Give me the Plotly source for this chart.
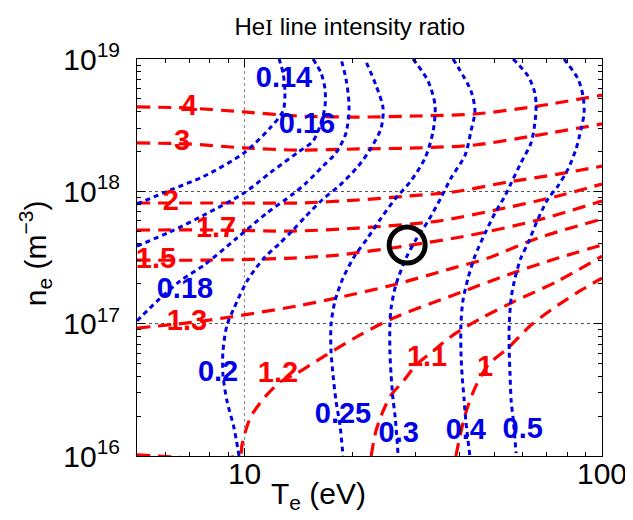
import plotly.graph_objects as go

# ---------------- data ----------------
# Blue dotted contours: temperature-sensitive line ratio
blue_levels = ["0.14", "0.16", "0.18", "0.2", "0.25", "0.3", "0.4", "0.5"]
te_b014 = [5.0, 6.18, 7.7, 9.96, 11.78, 12.81, 12.97, 12.81, 12.49]
ne_b014 = [8.02e17, 1.02e18, 1.30e18, 1.95e18, 3.01e18, 4.05e18, 5.53e18, 7.84e18, 1.0e19]
te_b016 = [5.0, 6.18, 7.7, 9.96, 11.78, 14.02, 15.54, 16.36, 16.79, 16.79, 16.36, 15.54]
ne_b016 = [3.86e17, 4.93e17, 6.62e17, 9.71e17, 1.38e18, 1.95e18, 2.40e18, 3.28e18, 4.41e18, 5.93e18, 7.84e18, 1.0e19]
te_b018 = [5.0, 5.69, 6.6, 7.7, 9.52, 11.55, 13.66, 14.86, 16.57, 18.02, 19.22, 19.6, 19.22, 18.61]
ne_b018 = [1.05e17, 1.48e17, 2.10e17, 2.77e17, 4.44e17, 6.86e17, 9.54e17, 1.155e18, 1.55e18, 1.95e18, 2.76e18, 4.41e18, 7.06e18, 1.0e19]
te_b020 = [9.65, 9.34, 8.93, 8.7, 8.7, 8.93, 9.34, 10.16, 11.33, 12.49, 13.66, 14.86, 16.47, 18.49, 20.8, 22.6, 24.1, 24.4, 23.3, 21.7]
ne_b020 = [1.0e16, 1.63e16, 2.60e16, 4.09e16, 6.21e16, 9.76e16, 1.31e17, 2.10e17, 3.13e17, 4.00e17, 5.10e17, 6.51e17, 8.60e17, 1.116e18, 1.55e18, 2.13e18, 3.01e18, 4.26e18, 6.36e18, 1.0e19]
te_b025 = [29.6, 32.6, 34.1, 33.7, 32.0, 29.2, 26.5, 24.1, 22.1, 20.4, 18.85, 17.9, 17.45, 17.45, 17.68, 18.02, 18.49, 18.85]
ne_b025 = [1.0e19, 6.82e18, 4.49e18, 2.86e18, 1.79e18, 1.20e18, 8.90e17, 6.28e17, 4.44e17, 3.30e17, 2.21e17, 1.48e17, 9.76e16, 6.21e16, 4.09e16, 2.60e16, 1.71e16, 1.0e16]
te_b030 = [38.3, 43.0, 44.1, 43.0, 41.4, 37.8, 35.4, 32.6, 30.0, 28.3, 26.5, 25.7, 25.5, 25.5, 25.7, 26.0, 26.4, 26.9]
ne_b030 = [1.0e19, 5.73e18, 4.05e18, 2.86e18, 1.88e18, 1.26e18, 8.90e17, 5.96e17, 4.21e17, 3.13e17, 1.96e17, 1.31e17, 9.76e16, 6.21e16, 4.09e16, 2.74e16, 1.93e16, 1.0e16]
te_b040 = [56.4, 62.1, 64.9, 65.4, 64.9, 63.3, 59.3, 55.7, 53.5, 50.2, 47.1, 44.1, 42.2, 40.8, 40.3, 40.3, 40.6, 41.1, 41.6, 42.7]
ne_b040 = [1.0e19, 7.44e18, 5.53e18, 4.41e18, 3.28e18, 2.32e18, 1.64e18, 1.155e18, 9.22e17, 6.86e17, 4.84e17, 3.24e17, 2.21e17, 1.48e17, 9.76e16, 6.21e16, 4.09e16, 2.74e16, 1.83e16, 1.0e16]
te_b050 = [78.3, 85.7, 88.5, 89.1, 87.4, 84.6, 80.3, 75.3, 70.6, 66.2, 62.1, 59.3, 57.1, 55.7, 55.0, 55.0, 55.3, 55.7, 56.4, 57.5]
ne_b050 = [1.0e19, 7.06e18, 5.25e18, 3.91e18, 2.96e18, 2.09e18, 1.47e18, 1.097e18, 8.75e17, 6.17e17, 4.07e17, 3.13e17, 2.21e17, 1.56e17, 9.76e16, 6.21e16, 4.09e16, 2.60e16, 1.93e16, 1.05e16]

# Red dashed contours: density-sensitive line ratio
red_levels = ["4", "3", "2", "1.7", "1.5", "1.3", "1.2", "1.1", "1"]
te_r4 = [5.0, 6.94, 9.96, 14.11, 20.8, 30.6, 44.1, 66.2, 100.0]
ne_r4 = [4.34e18, 4.26e18, 3.98e18, 3.71e18, 3.64e18, 3.71e18, 3.84e18, 4.41e18, 5.34e18]
te_r3 = [5.0, 6.94, 9.96, 14.11, 20.8, 30.6, 44.1, 66.2, 100.0]
ne_r3 = [2.32e18, 2.28e18, 2.13e18, 2.05e18, 2.09e18, 2.13e18, 2.24e18, 2.66e18, 3.23e18]
te_r2 = [5.0, 9.96, 14.11, 20.8, 28.7, 38.3, 54.6, 75.3, 100.0]
ne_r2 = [8.16e17, 8.16e17, 8.16e17, 8.60e17, 9.22e17, 9.88e17, 1.176e18, 1.35e18, 1.55e18]
te_r17 = [5.0, 8.32, 13.66, 20.8, 34.8, 53.5, 75.3, 100.0]
ne_r17 = [5.10e17, 5.10e17, 5.01e17, 5.28e17, 5.96e17, 7.48e17, 9.22e17, 1.136e18]
te_r15 = [5.0, 7.9, 13.66, 18.25, 28.1, 43.0, 66.2, 100.0]
ne_r15 = [3.02e17, 3.02e17, 3.13e17, 3.30e17, 3.86e17, 4.67e17, 6.07e17, 8.45e17]
te_r13 = [5.0, 7.7, 14.02, 18.02, 26.0, 38.3, 48.0, 66.2, 100.0]
ne_r13 = [9.26e16, 1.05e17, 1.36e17, 1.56e17, 1.96e17, 2.63e17, 3.13e17, 4.44e17, 6.17e17]
te_r12 = [5.0, 9.71, 9.83, 10.36, 11.33, 12.57, 14.02, 16.9, 21.0, 26.0, 38.3, 57.1, 75.3, 100.0]
ne_r12 = [1.02e16, 1.02e16, 1.21e16, 1.93e16, 2.74e16, 3.62e16, 4.23e16, 5.79e16, 8.20e16, 1.10e17, 1.64e17, 2.45e17, 3.13e17, 3.93e17]
te_r11 = [22.6, 23.3, 24.4, 25.7, 27.8, 30.2, 33.7, 38.3, 45.9, 57.1, 75.3, 100.0]
ne_r11 = [1.0e16, 1.54e16, 2.18e16, 2.89e16, 3.68e16, 4.87e16, 6.21e16, 8.20e16, 1.10e17, 1.48e17, 2.10e17, 3.24e17]
te_r10 = [39.0, 41.4, 44.1, 48.0, 54.6, 63.3, 75.3, 87.4, 100.0]
ne_r10 = [1.0e16, 2.04e16, 3.26e16, 4.87e16, 6.54e16, 9.76e16, 1.38e17, 1.79e17, 2.21e17]

# Contour label positions
red_label_te = [6.99, 6.68, 6.22, 8.32, 5.65, 6.90, 12.4, 32.4, 47.1]
red_label_ne = [4.26e18, 2.32e18, 8.16e17, 5.10e17, 2.97e17, 1.01e17, 4.09e16, 5.40e16, 4.54e16]
blue_label_te = [12.89, 14.95, 6.81, 8.43, 18.85, 27.0, 41.6, 60.0]
blue_label_ne = [6.94e18, 3.12e18, 1.76e17, 4.16e16, 2.00e16, 1.44e16, 1.52e16, 1.54e16]

# Highlighted measurement point (black circle)
point_te = [28.5]
point_ne = [3.93e17]

# Axis ticks
x_tickvals = [10, 100]
x_ticktext = ["10", "100"]
y_tickvals = [1e16, 1e17, 1e18, 1e19]
y_ticktext = ["10<sup>16</sup>", "10<sup>17</sup>", "10<sup>18</sup>", "10<sup>19</sup>"]
x_minor = [6, 7, 8, 9, 20, 30, 40, 50, 60, 70, 80, 90]
y_minor = [k * 10.0 ** e for e in (16, 17, 18) for k in range(2, 10)]

# ---------------- figure ----------------
RED = "#ff0000"
BLUE = "#0000e6"

red_curves = [(te_r4, ne_r4), (te_r3, ne_r3), (te_r2, ne_r2), (te_r17, ne_r17), (te_r15, ne_r15),
              (te_r13, ne_r13), (te_r12, ne_r12), (te_r11, ne_r11), (te_r10, ne_r10)]
blue_curves = [(te_b014, ne_b014), (te_b016, ne_b016), (te_b018, ne_b018), (te_b020, ne_b020),
               (te_b025, ne_b025), (te_b030, ne_b030), (te_b040, ne_b040), (te_b050, ne_b050)]

fig = go.Figure()
for (te, ne), lev in zip(red_curves, red_levels):
    fig.add_trace(go.Scatter(x=te, y=ne, mode="lines", name=lev,
                             line=dict(color=RED, width=3.2, dash="13px,8px", shape="spline", smoothing=0.8)))
for (te, ne), lev in zip(blue_curves, blue_levels):
    fig.add_trace(go.Scatter(x=te, y=ne, mode="lines", name=lev,
                             line=dict(color=BLUE, width=3, dash="5px,4px", shape="spline", smoothing=0.8)))

sans = "Liberation Sans, Arial"
fig.add_trace(go.Scatter(x=red_label_te, y=red_label_ne, mode="text",
                         text=["<b>%s</b>" % t for t in red_levels], textposition="middle center",
                         textfont=dict(color=RED, size=29, family=sans)))
fig.add_trace(go.Scatter(x=blue_label_te, y=blue_label_ne, mode="text",
                         text=["<b>%s</b>" % t for t in blue_levels], textposition="middle center",
                         textfont=dict(color=BLUE, size=29, family=sans)))
fig.add_trace(go.Scatter(x=point_te, y=point_ne, mode="markers",
                         marker=dict(symbol="circle-open", size=36, color="black", line=dict(width=5, color="black"))))

tick_font = dict(family=sans, size=30, color="black")
fig.update_xaxes(type="log", range=[0.69897, 2.0], tickmode="array", tickvals=x_tickvals, ticktext=x_ticktext,
                 ticks="inside", ticklen=8, tickcolor="black", showline=True, linecolor="black", linewidth=1,
                 mirror="ticks", showgrid=True, gridcolor="#888888", griddash="dot", gridwidth=1,
                 zeroline=False, tickfont=tick_font, ticklabelstandoff=-9,
                 minor=dict(tickmode="array", tickvals=x_minor, ticks="inside", ticklen=4,
                            tickcolor="black", showgrid=False))
fig.update_yaxes(type="log", range=[16, 19], tickmode="array", tickvals=y_tickvals, ticktext=y_ticktext,
                 ticks="inside", ticklen=8, tickcolor="black", showline=True, linecolor="black", linewidth=1,
                 mirror="ticks", showgrid=True, gridcolor="#555555", griddash="dot", gridwidth=1,
                 zeroline=False, tickfont=tick_font, ticklabelstandoff=10,
                 minor=dict(tickmode="array", tickvals=y_minor, ticks="inside", ticklen=4,
                            tickcolor="black", showgrid=False))

fig.update_layout(
    width=633, height=520, margin=dict(l=129, r=39, t=51, b=72),
    paper_bgcolor="white", plot_bgcolor="white", showlegend=False,
    title=dict(text="He<span style='font-family:Liberation Serif'>I</span> line intensity ratio",
               x=0.54, xanchor="center", y=0.964, yanchor="middle",
               yref="container", font=dict(family=sans, size=24, color="black")),
    annotations=[
        dict(text="T<sub>e</sub> (eV)", xref="paper", yref="paper", x=0.39, y=-0.10,
             xanchor="center", yanchor="middle", showarrow=False,
             font=dict(family=sans, size=30, color="black")),
        dict(text="n<sub>e</sub> (m<sup>\u22123</sup>)", xref="paper", yref="paper", x=-0.22, y=0.51,
             xanchor="center", yanchor="middle", showarrow=False, textangle=-90,
             font=dict(family=sans, size=30, color="black")),
    ],
)

fig.write_html("out.html")
